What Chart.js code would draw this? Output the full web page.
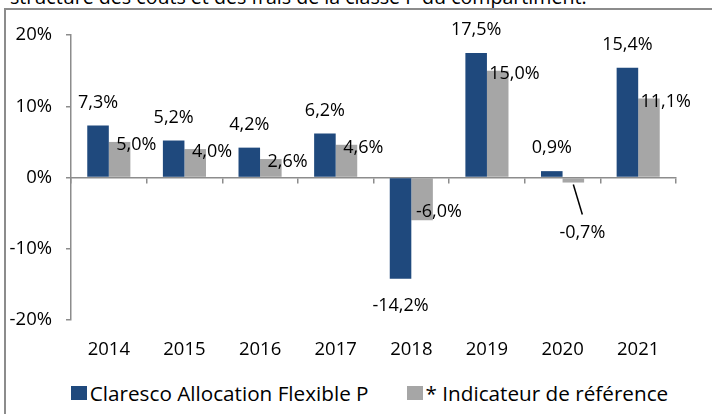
<!DOCTYPE html>
<html lang="fr">
<head>
<meta charset="utf-8">
<script src="https://cdn.jsdelivr.net/npm/chart.js@4.4.1/dist/chart.umd.min.js"></script>
<style>
  html, body { margin: 0; padding: 0; background: #fff; overflow: hidden; width: 712px; height: 414px; }
  .note {
    position: absolute; left: 10px; top: -13px;
    font: 19.6px "Open Sans", sans-serif; line-height: 20px; color: #000;
    white-space: nowrap;
  }
  .cadre {
    position: absolute; left: 4px; top: 8px;
    width: 760px; height: 430px;
    border: 2px solid #8c8c8c; box-sizing: border-box;
  }
  #perf { position: absolute; left: 0; top: 0; }
  #legende {
    position: absolute; left: 0; top: 383px; width: 739px;
    display: flex; justify-content: center; gap: 38px;
    font: 20.7px "Open Sans", sans-serif; line-height: 20px; color: #000;
    white-space: nowrap;
  }
  #legende span { display: flex; align-items: center; }
  #legende i { display: inline-block; width: 16px; height: 14px; margin-right: 3px; }
</style>
</head>
<body>
<div class="note">structure des coûts et des frais de la classe P du compartiment.</div>
<div class="cadre"><canvas id="perf" width="740" height="360"></canvas></div>
<div id="legende"></div>
<script>
// Performances annuelles
const annees = ["2014", "2015", "2016", "2017", "2018", "2019", "2020", "2021"];
const fonds = [7.3, 5.2, 4.2, 6.2, -14.2, 17.5, 0.9, 15.4];
const indicateur = [5.0, 4.0, 2.6, 4.6, -6.0, 15.0, -0.7, 11.1];
const nomFonds = "Claresco Allocation Flexible P";
const nomIndicateur = "* Indicateur de référence";

const bleu = "#1f497d";
const gris = "#a6a6a6";
const axe = "#8c8c8c";
const police = "'Open Sans', sans-serif";

const fmt = v => v.toFixed(1).replace(".", ",") + "%";

// étiquettes de valeur posées à la main comme dans le tableur
const etiquettes = {
    id: "etiquettes",
    afterDatasetsDraw(chart) {
        const ctx = chart.ctx;
        ctx.save();
        ctx.font = "18px " + police;
        ctx.fillStyle = "#000";
        ctx.textBaseline = "middle";
        ctx.textAlign = "center";

        chart.getDatasetMeta(0).data.forEach((bar, i) => {
            const v = fonds[i];
            const y = v >= 0 ? bar.y - 23 : bar.y + 27;
            ctx.fillText(fmt(v), bar.x, y);
        });

        chart.getDatasetMeta(1).data.forEach((bar, i) => {
            const v = indicateur[i];
            if (v < 0 && v > -2) {
                // petite barre : étiquette déportée avec un trait de rappel
                ctx.strokeStyle = "#000";
                ctx.lineWidth = 1.5;
                ctx.beginPath();
                ctx.moveTo(bar.x, bar.y + 2);
                ctx.lineTo(bar.x + 9, bar.y + 32);
                ctx.stroke();
                ctx.fillText(fmt(v), bar.x + 9, bar.y + 50);
                return;
            }
            const x = bar.x + bar.width / 2 + 6;
            const y = v >= 0 ? bar.y + 3 : bar.y - 8;
            ctx.fillText(fmt(v), x, y);
        });
        ctx.restore();
    }
};

const graphe = new Chart(document.getElementById("perf"), {
    type: "bar",
    data: {
        labels: annees,
        datasets: [
            { label: nomFonds, data: fonds, backgroundColor: bleu },
            { label: nomIndicateur, data: indicateur, backgroundColor: gris }
        ]
    },
    options: {
        responsive: false,
        animation: false,
        categoryPercentage: 0.57,
        barPercentage: 1,
        layout: { padding: { left: 0, right: 70, top: 24, bottom: 6 } },
        scales: {
            x: {
                position: { y: 0 },
                grid: { drawOnChartArea: false, drawTicks: true, tickLength: 5, color: axe, lineWidth: 1.5 },
                border: { color: axe, width: 1.5 },
                ticks: { display: false }
            },
            xLabels: {
                type: "category",
                position: "bottom",
                labels: annees,
                grid: { display: false, drawTicks: false },
                border: { display: false },
                ticks: { color: "#000", font: { family: police, size: 18.5 }, padding: 19, maxRotation: 0 },
                afterFit(scale) { scale.height = 44; }
            },
            y: {
                min: -20,
                max: 20,
                grid: { drawOnChartArea: false, drawTicks: true, tickLength: 5, color: axe, lineWidth: 1.5 },
                border: { color: axe, width: 1.5 },
                ticks: {
                    stepSize: 10,
                    color: "#000",
                    font: { family: police, size: 18.5 },
                    padding: 14,
                    callback: v => v + "%"
                },
                afterFit(scale) { scale.width = 65; }
            }
        },
        plugins: {
            legend: { display: false },
            tooltip: { enabled: false }
        }
    },
    plugins: [etiquettes]
});

// légende sous le graphique, construite à partir des séries
const legende = document.getElementById("legende");
graphe.data.datasets.forEach(ds => {
    const item = document.createElement("span");
    const carre = document.createElement("i");
    carre.style.background = ds.backgroundColor;
    item.appendChild(carre);
    item.appendChild(document.createTextNode(ds.label));
    legende.appendChild(item);
});
</script>
</body>
</html>
